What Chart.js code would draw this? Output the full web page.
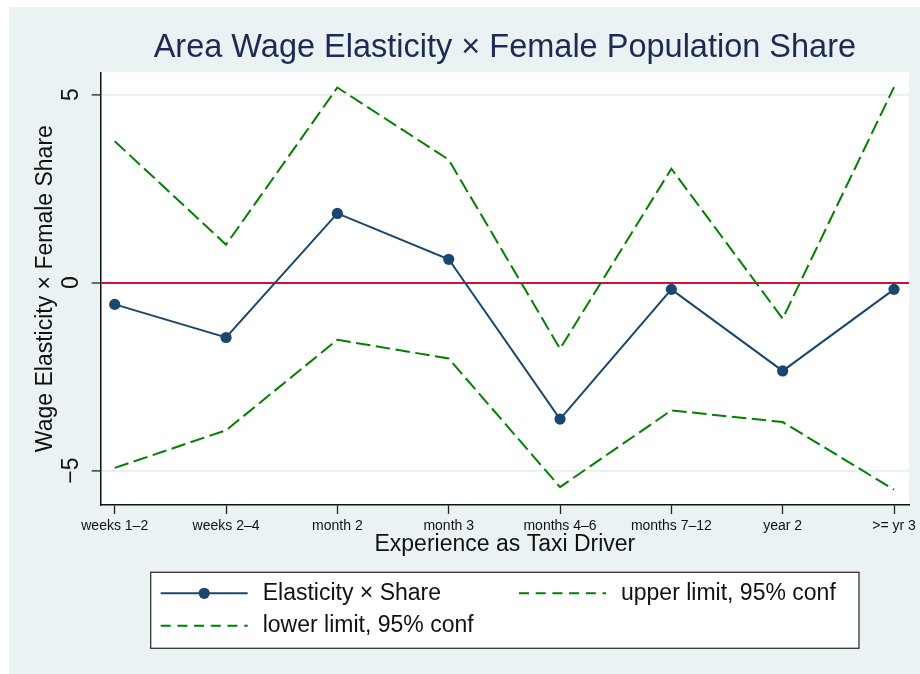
<!DOCTYPE html>
<html lang="en">
<head>
<meta charset="UTF-8">
<title>Area Wage Elasticity × Female Population Share</title>
<script src="https://cdn.jsdelivr.net/npm/chart.js"></script>
<style>
  html, body { margin: 0; padding: 0; background: #fff; }
  #wrap { width: 920px; height: 674px; }
</style>
</head>
<body>
<div id="wrap"><canvas id="elastChart" width="920" height="674"></canvas></div>

<script>
  // data
  const categories = ['weeks 1–2', 'weeks 2–4', 'month 2', 'month 3', 'months 4–6', 'months 7–12', 'year 2', '>= yr 3'];
  const estimate   = [-0.58, -1.46, 1.84, 0.62, -3.63, -0.18, -2.35, -0.18];
  const upperLimit = [3.76, 1.01, 5.19, 3.27, -1.76, 3.03, -0.96, 5.20];
  const lowerLimit = [-4.93, -3.93, -1.52, -2.02, -5.44, -3.40, -3.71, -5.51];
  const yTicks = [-5, 0, 5];
  const yTickLabels = ['−5', '0', '5'];
  const seriesLabels = ['Elasticity × Share', 'upper limit, 95% conf', 'lower limit, 95% conf'];

  const NAVY = '#1a476f';
  const GREEN = '#008000';
  const RED = '#d0103a';
  const DASH = [14.5, 5.5];
  const LEGEND_DASH = [10, 6.7];

  Chart.defaults.font.family = '"Liberation Sans", Arial, Helvetica, sans-serif';
  Chart.defaults.color = '#111';

  const toPoints = arr => arr.map((v, i) => ({ x: i, y: v }));

  // stata-like backgrounds
  const backgroundPlugin = {
    id: 'bg',
    beforeDraw(chart) {
      const { ctx, chartArea: a } = chart;
      ctx.save();
      ctx.fillStyle = '#ffffff';
      ctx.fillRect(0, 0, chart.width, chart.height);
      ctx.fillStyle = '#eaf2f3';
      ctx.fillRect(9, 7, chart.width - 9, chart.height - 7);
      ctx.fillStyle = '#ffffff';
      ctx.fillRect(a.left, a.top, a.right - a.left, a.bottom - a.top);
      ctx.restore();
    }
  };

  // boxed two-column legend
  const boxLegendPlugin = {
    id: 'boxLegend',
    afterDraw(chart) {
      const ctx = chart.ctx;
      const slots = [[160.7, 593.3], [519, 593.3], [160.7, 625.7]];
      ctx.save();
      ctx.fillStyle = '#fff';
      ctx.fillRect(150.7, 572.3, 708.3, 76);
      ctx.strokeStyle = '#333';
      ctx.lineWidth = 1.3;
      ctx.strokeRect(150.7, 572.3, 708.3, 76);

      chart.data.datasets.forEach((ds, i) => {
        const [x, y] = slots[i];
        ctx.strokeStyle = ds.borderColor;
        ctx.lineWidth = ds.borderWidth;
        ctx.setLineDash(ds.borderDash ? LEGEND_DASH : []);
        ctx.beginPath();
        ctx.moveTo(x, y);
        ctx.lineTo(x + 87, y);
        ctx.stroke();
        ctx.setLineDash([]);
        if (ds.pointRadius > 0) {
          ctx.fillStyle = ds.pointBackgroundColor;
          ctx.beginPath();
          ctx.arc(x + 43.5, y, ds.pointRadius, 0, Math.PI * 2);
          ctx.fill();
        }
        ctx.fillStyle = '#111';
        ctx.font = '23px "Liberation Sans", Arial, sans-serif';
        ctx.textBaseline = 'middle';
        ctx.textAlign = 'left';
        ctx.fillText(ds.label, x + 102, y);
      });
      ctx.restore();
    }
  };

  new Chart(document.getElementById('elastChart'), {
    type: 'line',
    data: {
      datasets: [
        {
          label: seriesLabels[0],
          data: toPoints(estimate),
          borderColor: NAVY,
          backgroundColor: NAVY,
          borderWidth: 2,
          pointRadius: 5.6,
          pointBackgroundColor: NAVY,
          pointBorderWidth: 0,
          tension: 0
        },
        {
          label: seriesLabels[1],
          data: toPoints(upperLimit),
          borderColor: GREEN,
          borderWidth: 2,
          borderDash: DASH,
          pointRadius: 0,
          tension: 0
        },
        {
          label: seriesLabels[2],
          data: toPoints(lowerLimit),
          borderColor: GREEN,
          borderWidth: 2,
          borderDash: DASH,
          pointRadius: 0,
          tension: 0
        }
      ]
    },
    options: {
      responsive: false,
      devicePixelRatio: 1,
      animation: false,
      layout: { padding: { left: 0, right: 10.7, top: 0, bottom: 109 } },
      plugins: {
        legend: { display: false },
        tooltip: { enabled: false },
        title: {
          display: true,
          fullSize: false,
          text: 'Area Wage Elasticity × Female Population Share',
          color: '#1c2a55',
          font: { size: 32.5, weight: 'normal' },
          padding: { top: 29, bottom: 4.3 }
        }
      },
      scales: {
        x: {
          type: 'linear',
          min: -0.126,
          max: 7.135,
          afterBuildTicks: s => { s.ticks = categories.map((c, i) => ({ value: i })); },
          afterFit: s => { s.height = 60; },
          ticks: {
            callback: v => categories[v],
            autoSkip: false,
            minRotation: 0,
            maxRotation: 0,
            padding: 4,
            font: { size: 14 },
            color: '#111'
          },
          grid: { drawOnChartArea: false, drawTicks: true, tickLength: 9, tickColor: '#222', tickWidth: 1.3 },
          border: { display: true, color: '#111', width: 1.5 },
          title: {
            display: true,
            text: 'Experience as Taxi Driver',
            font: { size: 23 },
            color: '#111',
            padding: { top: 0, bottom: 7 }
          }
        },
        y: {
          min: -5.917,
          max: 5.595,
          afterBuildTicks: s => { s.ticks = yTicks.map(v => ({ value: v })); },
          afterFit: s => { s.width = 100.7; },
          ticks: {
            callback: v => yTickLabels[yTicks.indexOf(v)],
            minRotation: 90,
            maxRotation: 90,
            crossAlign: 'center',
            padding: 6.9,
            font: { size: 23 },
            color: '#111'
          },
          grid: {
            color: c => (c.tick && c.tick.value === 0 ? RED : '#e6eef2'),
            lineWidth: c => (c.tick && c.tick.value === 0 ? 2 : 1.8),
            drawTicks: true,
            tickLength: 9,
            tickColor: '#222',
            tickWidth: 1.3
          },
          border: { display: true, color: '#111', width: 1.5 },
          title: {
            display: true,
            text: 'Wage Elasticity × Female Share',
            font: { size: 23 },
            color: '#111',
            padding: { top: 31.5, bottom: 0 }
          }
        }
      }
    },
    plugins: [backgroundPlugin, boxLegendPlugin]
  });
</script>
</body>
</html>
